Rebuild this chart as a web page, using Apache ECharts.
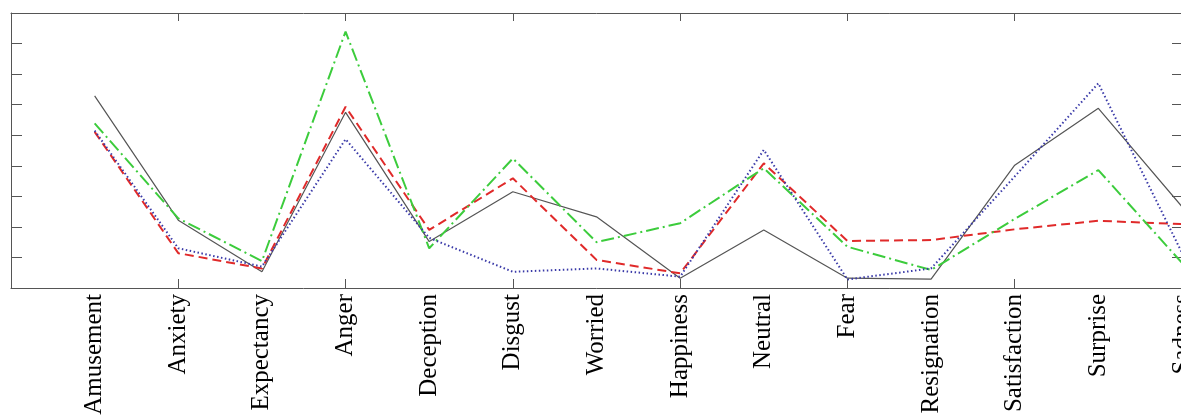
<!DOCTYPE html>
<html>
<head>
<meta charset="utf-8">
<script src="https://cdn.jsdelivr.net/npm/echarts@6/dist/echarts.min.js"></script>
<style>
  html, body { margin: 0; padding: 0; background: #fff; }
  #chart { width: 1181px; height: 416px; }
</style>
</head>
<body>
<div id="chart"></div>
<script>
const emotions = ['Amusement', 'Anxiety', 'Expectancy', 'Anger', 'Deception', 'Disgust', 'Worried',
  'Happiness', 'Neutral', 'Fear', 'Resignation', 'Satisfaction', 'Surprise', 'Sadness'];

// values (arbitrary units, 0..9)
const blackSolid = [6.29, 2.22, 0.53, 5.75, 1.52, 3.15, 2.33, 0.32, 1.90, 0.32, 0.29, 4.02, 5.88, 2.66];
const redDashed  = [5.11, 1.14, 0.64, 5.93, 1.90, 3.59, 0.92, 0.48, 4.08, 1.54, 1.57, 1.92, 2.20, 2.09];
const greenDashDot = [5.39, 2.28, 0.88, 8.39, 1.30, 4.24, 1.50, 2.12, 3.92, 1.35, 0.59, 2.26, 3.86, 0.82];
const blueDotted = [5.15, 1.30, 0.70, 4.87, 1.64, 0.53, 0.64, 0.37, 4.52, 0.28, 0.64, 3.65, 6.70, 1.15];

const tickPos = [2, 4, 6, 8, 10, 12];
const labelPos = emotions.map((_, i) => i + 1);

const toPoints = arr => arr.map((v, i) => [i + 1, v]);

const chart = echarts.init(document.getElementById('chart'));

const frame = '#555';

const line = (name, data, color, width, type) => ({
  name,
  type: 'line',
  data: toPoints(data),
  symbol: 'none',
  silent: true,
  lineStyle: { color, width, type }
});

chart.setOption({
  animation: false,
  grid: { left: 11, top: 13, width: 1171, height: 275, containLabel: false, outerBoundsMode: 'none' },
  xAxis: [{
    type: 'value', position: 'bottom', min: 0, max: 14, interval: 1,
    splitLine: { show: false },
    axisLine: { show: true, onZero: false, lineStyle: { color: frame, width: 1 } },
    axisTick: { show: true, inside: true, length: 9, customValues: tickPos, lineStyle: { color: frame } },
    axisLabel: {
      customValues: labelPos,
      formatter: v => emotions[v - 1] || '',
      rotate: 90, margin: 6,
      fontFamily: 'Liberation Serif', fontSize: 25, color: '#000'
    }
  }, {
    type: 'value', position: 'top', min: 0, max: 14, interval: 1,
    splitLine: { show: false },
    axisLine: { show: true, onZero: false, lineStyle: { color: frame, width: 1 } },
    axisTick: { show: true, inside: true, length: 8, customValues: tickPos, lineStyle: { color: frame } },
    axisLabel: { show: false }
  }],
  yAxis: [{
    type: 'value', position: 'left', min: 0, max: 9, interval: 1,
    splitLine: { show: false },
    axisLine: { show: true, onZero: false, lineStyle: { color: frame, width: 1 } },
    axisTick: { show: true, inside: true, length: 11, lineStyle: { color: frame } },
    axisLabel: { show: false }
  }, {
    type: 'value', position: 'right', min: 0, max: 9, interval: 1,
    splitLine: { show: false },
    axisLine: { show: true, onZero: false, lineStyle: { color: frame, width: 1 } },
    axisTick: { show: true, inside: true, length: 10, lineStyle: { color: frame } },
    axisLabel: { show: false }
  }],
  series: [
    line('solid', blackSolid, '#555', 1.2, 'solid'),
    line('dashed', redDashed, '#e02a2a', 2, [9, 5]),
    line('dashdot', greenDashDot, '#3ccc3c', 2, [13, 4, 2, 4]),
    line('dotted', blueDotted, '#3a3aa8', 2, [1.5, 2.5])
  ]
});
</script>
</body>
</html>
